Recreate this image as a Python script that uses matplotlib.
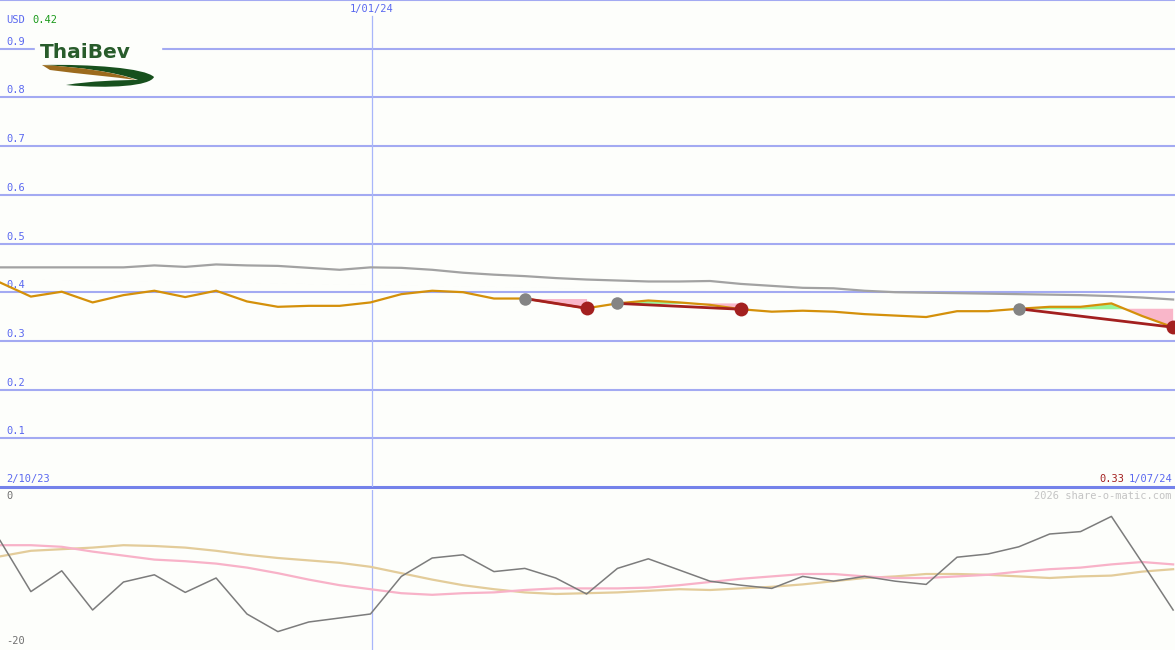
import numpy as np
import matplotlib
matplotlib.use('Agg')
from matplotlib import pyplot as plt
from matplotlib.path import Path
import matplotlib.patches as mpatches
import matplotlib.transforms as mtransforms

# weekly closes, USD (index 0 = 2/10/23, index 38 = 1/07/24)
price = [0.420, 0.391, 0.401, 0.379, 0.394, 0.403, 0.390, 0.403, 0.381, 0.370,
         0.372, 0.372, 0.379, 0.396, 0.403, 0.400, 0.387, 0.387, 0.377, 0.367,
         0.377, 0.383, 0.379, 0.374, 0.365, 0.360, 0.362, 0.360, 0.355, 0.352,
         0.349, 0.361, 0.361, 0.366, 0.370, 0.370, 0.377, 0.351, 0.328]
avg = [0.451, 0.451, 0.451, 0.451, 0.451, 0.455, 0.452, 0.457, 0.455, 0.454,
       0.450, 0.446, 0.451, 0.450, 0.446, 0.440, 0.436, 0.433, 0.429, 0.426,
       0.424, 0.422, 0.422, 0.423, 0.417, 0.413, 0.409, 0.408, 0.403, 0.400,
       0.399, 0.398, 0.397, 0.396, 0.395, 0.394, 0.392, 0.389, 0.385]
# falling trend segments: (start index, end index)
trends = [(17, 19), (20, 24), (33, 38)]

osc = [-6.3, -12.7, -10.1, -15.0, -11.5, -10.6, -12.8, -11.0, -15.5, -17.7,
       -16.5, -16.0, -15.5, -10.8, -8.5, -8.1, -10.2, -9.8, -11.0, -13.0,
       -9.8, -8.6, -10.0, -11.4, -11.9, -12.3, -10.8, -11.4, -10.8, -11.4,
       -11.8, -8.4, -8.0, -7.1, -5.5, -5.2, -3.3, -9.1, -15.0]
osc_pink = [-6.9, -6.9, -7.1, -7.7, -8.2, -8.7, -8.9, -9.2, -9.7, -10.4,
            -11.2, -11.9, -12.4, -12.9, -13.1, -12.9, -12.8, -12.5, -12.3, -12.3,
            -12.3, -12.2, -11.9, -11.5, -11.1, -10.8, -10.5, -10.5, -10.8, -11.0,
            -11.0, -10.8, -10.6, -10.2, -9.9, -9.7, -9.3, -9.0, -9.3]
osc_tan = [-8.3, -7.6, -7.4, -7.2, -6.9, -7.0, -7.2, -7.6, -8.1, -8.5,
           -8.8, -9.1, -9.6, -10.4, -11.2, -11.9, -12.4, -12.8, -13.0, -12.9,
           -12.8, -12.6, -12.4, -12.5, -12.3, -12.1, -11.8, -11.4, -11.0, -10.8,
           -10.5, -10.5, -10.6, -10.8, -11.0, -10.8, -10.7, -10.2, -9.9]

yticks = [0.1, 0.2, 0.3, 0.4, 0.5, 0.6, 0.7, 0.8, 0.9]
date_mid = '1/01/24'
date_start = '2/10/23'
date_end = '1/07/24'
mid_pos = 12.05

bg = '#fdfefb'
grid_c = '#a3aaf2'
lab_c = '#5a68f0'
mono = 'DejaVu Sans Mono'

x = np.arange(len(price))
xmax = 38.06

fig = plt.figure(figsize=(11.75, 6.5), dpi=100)
fig.patch.set_facecolor(bg)

ax = fig.add_axes([0, 163 / 650, 1, 487 / 650])
ax.set_facecolor(bg)
ax.set_xlim(0, xmax)
ax.set_ylim(0, 1)
ax.axis('off')
for v in yticks:
    ax.axhline(v, color=grid_c, lw=1.5, zorder=1)
ax.axhline(1.0, color=grid_c, lw=1.5, zorder=1, clip_on=False)
ax.axhline(0.0, color='#7482ea', lw=2.2, zorder=1, clip_on=False)
ax.axvline(mid_pos, ymin=0, ymax=(487 - 16) / 487, color='#a8b6fa', lw=0.9, zorder=1)

tr = mtransforms.blended_transform_factory(ax.transAxes, ax.transData)
for v in yticks:
    ax.text(6 / 1175, v + 0.004, '%.1f' % v, transform=tr, color=lab_c,
            fontsize=7.5, family=mono, va='bottom', ha='left')

ax.plot(x, avg, color='#a2a2a2', lw=1.6, zorder=3)
p = np.array(price)
for s, e in trends:
    xs = x[s:e + 1]
    lvl = np.full(len(xs), price[s])
    ax.fill_between(xs, p[s:e + 1], lvl, where=p[s:e + 1] <= lvl, interpolate=True,
                    color='#f9b6c9', lw=0, zorder=2)
    ax.fill_between(xs, p[s:e + 1], lvl, where=p[s:e + 1] >= lvl, interpolate=True,
                    color='#98f598', lw=0, zorder=2)
ax.plot(x, price, color='#d4900a', lw=1.6, zorder=4)
for s, e in trends:
    ax.plot([s, e], [price[s], price[e]], color='#a3201f', lw=2.0, zorder=5)
    ax.plot(s, price[s], 'o', color='#848484', ms=9, mec='none', zorder=6)
    ax.plot(e, price[e], 'o', color='#a3201f', ms=10, mec='none', zorder=6)

ax2 = fig.add_axes([0, 0, 1, 160 / 650])
ax2.set_facecolor(bg)
ax2.set_xlim(0, xmax)
ax2.set_ylim(-20, 0)
ax2.axis('off')
ax2.axvline(mid_pos, color='#a8b6fa', lw=0.9, zorder=1)
ax2.plot(x, osc_tan, color='#e3cc9a', lw=1.6, zorder=2)
ax2.plot(x, osc_pink, color='#f8b2c8', lw=1.6, zorder=2)
ax2.plot(x, osc, color='#7c7c7c', lw=1.1, zorder=3)

# overlay in pixel coordinates for labels and logo
ov = fig.add_axes([0, 0, 1, 1])
ov.set_xlim(0, 1175)
ov.set_ylim(650, 0)
ov.axis('off')

ov.text(6, 20, 'USD', color=lab_c, fontsize=7.5, family=mono, va='center')
ov.text(32, 20, '0.42', color='#1a9a1a', fontsize=7.5, family=mono, va='center')
ov.text(372, 9, date_mid, color=lab_c, fontsize=7.5, family=mono, va='center', ha='center')
ov.text(6, 479, date_start, color=lab_c, fontsize=7.5, family=mono, va='center')
ov.text(1172, 479, date_end, color=lab_c, fontsize=7.5, family=mono, va='center', ha='right')
ov.text(1124, 479, '0.33', color='#a3201f', fontsize=7.5, family=mono, va='center', ha='right')
ov.text(1172, 496, '2026 share-o-matic.com', color='#c4c4c4', fontsize=7.5, family=mono,
        va='center', ha='right')
ov.text(6, 496, '0', color='#707070', fontsize=7.5, family=mono, va='center')
ov.text(6, 641, '-20', color='#707070', fontsize=7.5, family=mono, va='center')

# logo
ov.add_patch(mpatches.Rectangle((35, 44), 126, 48, color=bg, zorder=5))
ov.text(40, 53, 'ThaiBev', color='#285c2b', fontsize=14.5, fontweight='bold',
        family='DejaVu Sans', va='center', ha='left', zorder=6)
C4 = Path.CURVE4
green = Path([(42, 65), (90, 64), (145, 68), (154, 77),
              (150, 86), (110, 89), (66, 85),
              (90, 81), (120, 80), (138, 80),
              (115, 72), (80, 67), (42, 65)],
             [Path.MOVETO, C4, C4, C4, C4, C4, C4, C4, C4, C4, C4, C4, C4])
ov.add_patch(mpatches.PathPatch(green, facecolor='#17501d', edgecolor='none', zorder=6))
brown = Path([(42, 65), (80, 67), (115, 72), (136, 80),
              (115, 77), (80, 74), (50, 70), (42, 65)],
             [Path.MOVETO, C4, C4, C4, C4, C4, C4, Path.LINETO])
ov.add_patch(mpatches.PathPatch(brown, facecolor='#9c6b1e', edgecolor='none', zorder=7))

fig.savefig('out.png', dpi=100, facecolor=bg)
